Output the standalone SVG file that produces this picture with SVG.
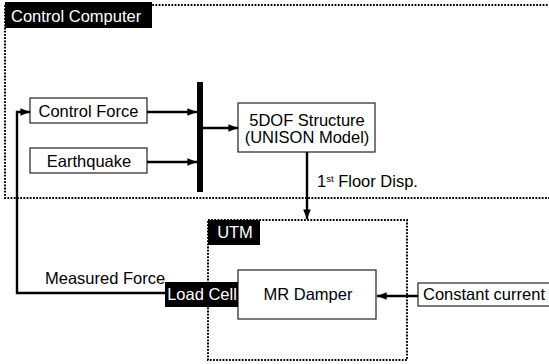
<svg xmlns="http://www.w3.org/2000/svg" width="549" height="364" viewBox="0 0 549 364">
<defs>
<style>
.t{font-family:"Liberation Sans",Arial,sans-serif;font-size:16.5px;fill:#000}
.w{font-family:"Liberation Sans",Arial,sans-serif;font-size:16.5px;fill:#fff}
.box{fill:#fff;stroke:#222;stroke-width:1.2}
.dot{fill:none;stroke:#000;stroke-width:2;stroke-dasharray:1.8 1.4}
.c{fill:none;stroke:#000;stroke-width:2.4}
.lab{fill:#000}
</style>
<marker id="ah" viewBox="0 0 10 10" refX="10" refY="5" markerWidth="4" markerHeight="4" orient="auto" markerUnits="strokeWidth">
<path d="M0,1 L10,5 L0,9 z" fill="#000"/>
</marker>
</defs>
<rect width="549" height="364" fill="#fff"/>

<g id="control-computer">
<rect class="dot" x="5" y="5" width="560" height="193"/>
<rect class="lab" x="5" y="2" width="147" height="26"/>
<text class="w" x="11" y="22">Control Computer</text>
</g>

<g id="utm">
<rect class="dot" x="208" y="220" width="199" height="140"/>
<rect class="lab" x="208" y="220" width="52" height="25"/>
<text class="w" x="235" y="238" text-anchor="middle">UTM</text>
</g>

<g id="control-force">
<rect class="box" x="30" y="98" width="117" height="25"/>
<text class="t" x="88.5" y="117" text-anchor="middle">Control Force</text>
</g>

<g id="earthquake">
<rect class="box" x="30" y="148" width="117" height="25"/>
<text class="t" x="89" y="167" text-anchor="middle" font-size="15.5">Earthquake</text>
</g>

<g id="sum-bar">
<rect class="lab" x="197" y="82" width="6" height="110"/>
</g>

<g id="structure">
<rect class="box" x="238" y="103" width="137" height="49"/>
<text class="t" x="307" y="126" text-anchor="middle">5DOF Structure</text>
<text class="t" x="307" y="143" text-anchor="middle">(UNISON Model)</text>
</g>

<g id="mr-damper">
<rect class="box" x="238" y="270" width="138" height="49"/>
<text class="t" x="308" y="300" text-anchor="middle">MR Damper</text>
</g>

<g id="load-cell">
<rect class="lab" x="165" y="282" width="73" height="25"/>
<text class="w" x="202" y="300" text-anchor="middle" font-size="16">Load Cell</text>
</g>

<g id="constant-current">
<rect class="box" x="418" y="283" width="135" height="23"/>
<text class="t" x="423" y="300" font-size="16">Constant current</text>
</g>

<g id="connectors">
<line class="c" x1="147" y1="112" x2="197" y2="112" marker-end="url(#ah)"/>
<line class="c" x1="147" y1="162" x2="197" y2="162" marker-end="url(#ah)"/>
<line class="c" x1="203" y1="128" x2="238" y2="128" marker-end="url(#ah)"/>
<line class="c" x1="307" y1="152" x2="307" y2="219" marker-end="url(#ah)"/>
<line class="c" x1="418" y1="296" x2="377" y2="296" marker-end="url(#ah)"/>
<polyline class="c" points="165,293 17,293 17,112 30,112" marker-end="url(#ah)"/>
<text class="t" x="45" y="284" font-size="15.5">Measured Force</text>
<text class="t" x="317" y="187" font-size="14.5">1<tspan font-size="9.5" dy="-5">st</tspan><tspan dy="5"> Floor Disp.</tspan></text>
</g>
</svg>
